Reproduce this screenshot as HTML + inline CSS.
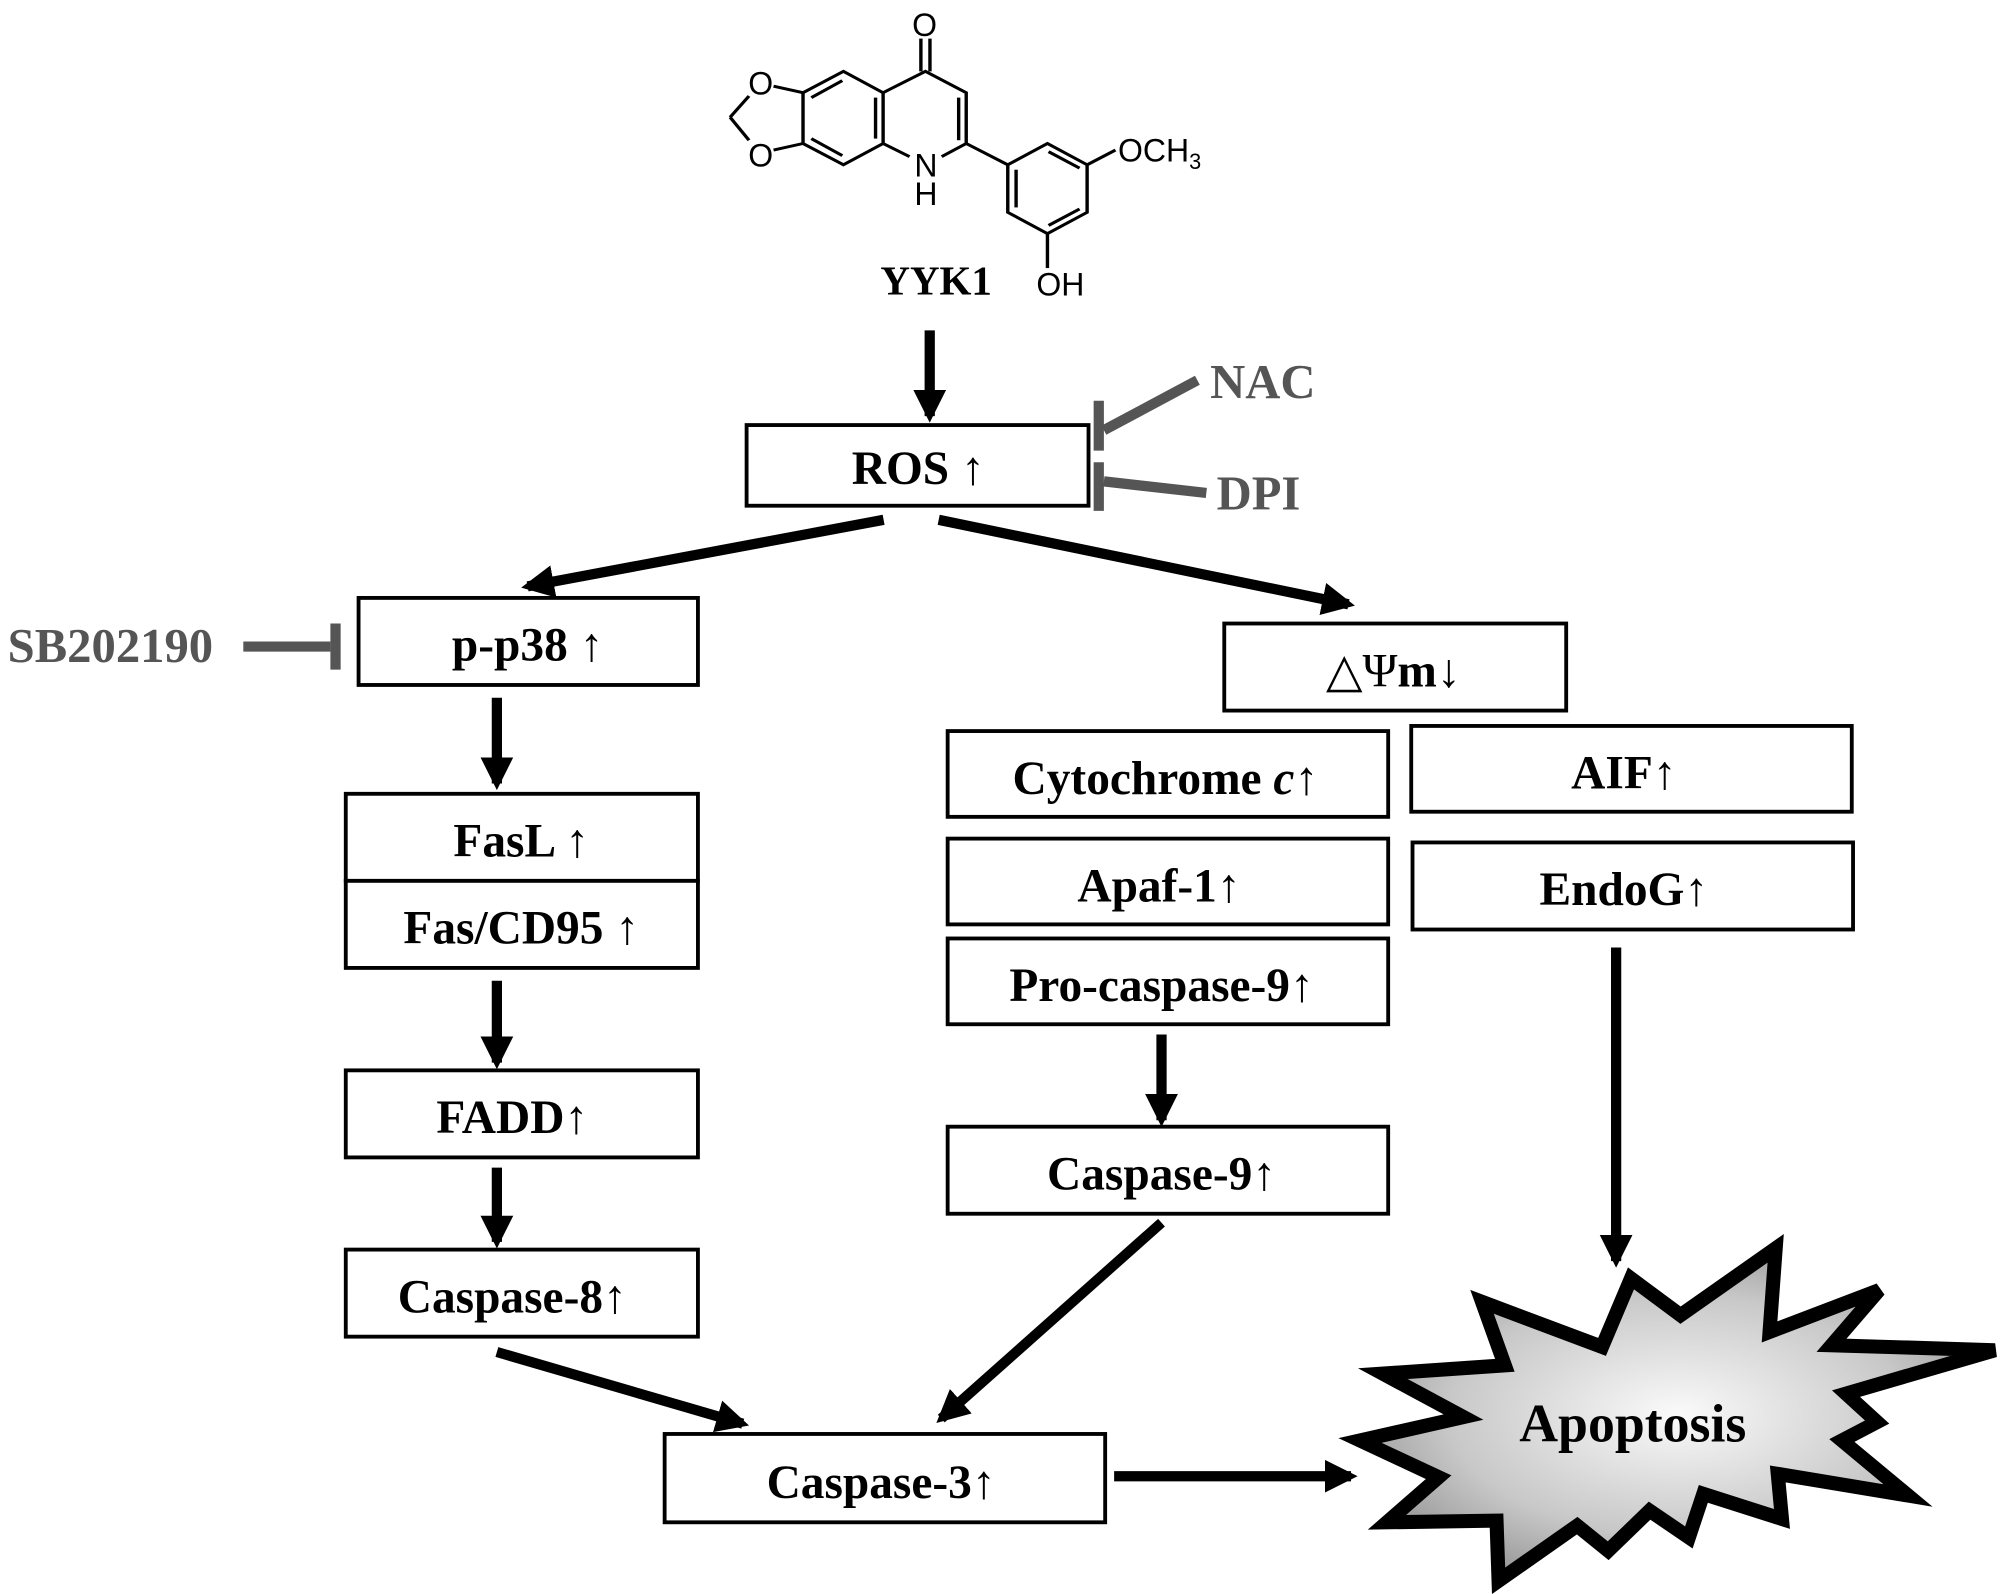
<!DOCTYPE html>
<html><head><meta charset="utf-8"><style>
html,body{margin:0;padding:0;background:#fff;}
svg{display:block;}
.b{fill:#fff;stroke:#000;stroke-width:3;}
.t{font-family:"Liberation Serif",serif;font-weight:bold;font-size:37px;fill:#000;text-anchor:middle;}
.g{font-family:"Liberation Serif",serif;font-weight:bold;font-size:38px;fill:#555;}
.m{font-family:"Liberation Sans",sans-serif;font-size:25px;fill:#000;}
.ar{font-weight:normal;}
</style></head><body>
<svg width="2008" height="1594" viewBox="0 0 1568 1245" preserveAspectRatio="none" xmlns="http://www.w3.org/2000/svg">
<defs>
<marker id="ah" viewBox="0 0 10 10" refX="8" refY="5" markerWidth="3.2" markerHeight="3.2" orient="auto" markerUnits="strokeWidth">
<path d="M0,0 L10,5 L0,10 z" fill="#000"/></marker>
<radialGradient id="sg" cx="50%" cy="50%" r="60%">
<stop offset="0" stop-color="#fafafa"/><stop offset="0.6" stop-color="#c8c8c8"/><stop offset="1" stop-color="#8a8a8a"/></radialGradient>
</defs>

<!-- molecule -->
<g transform="translate(548,2) scale(0.295,0.256)" fill="none" stroke="#000" stroke-width="9">
<line x1="580" y1="210" x2="580" y2="110"/><line x1="604" y1="210" x2="604" y2="110"/>
<polyline points="480,430 480,275 592,210 700,275 700,430"/>
<line x1="680" y1="290" x2="680" y2="420"/>
<line x1="700" y1="430" x2="635" y2="470"/><line x1="480" y1="430" x2="550" y2="470"/>
<polyline points="480,275 375,210 268,275 268,430 375,495 480,430"/>
<line x1="460" y1="290" x2="460" y2="415"/><line x1="290" y1="290" x2="372" y2="238"/><line x1="290" y1="415" x2="372" y2="467"/>
<line x1="268" y1="275" x2="190" y2="255"/><line x1="125" y1="285" x2="75" y2="350"/><line x1="75" y1="350" x2="125" y2="420"/><line x1="190" y1="450" x2="268" y2="430"/>
<line x1="700" y1="430" x2="810" y2="495"/>
<polygon points="810,495 915,430 1020,495 1020,640 915,705 810,640"/>
<line x1="832" y1="510" x2="832" y2="625"/><line x1="918" y1="455" x2="1000" y2="505"/><line x1="1000" y1="630" x2="918" y2="680"/>
<line x1="1020" y1="495" x2="1095" y2="450"/><line x1="915" y1="705" x2="915" y2="810"/>
</g>
<text class="m" x="722" y="28" text-anchor="middle">O</text>
<text class="m" x="594" y="74" text-anchor="middle">O</text>
<text class="m" x="594" y="130" text-anchor="middle">O</text>
<text class="m" x="723" y="138" text-anchor="middle">N</text>
<text class="m" x="723" y="160" text-anchor="middle">H</text>
<text class="m" x="873" y="126">OCH<tspan font-size="17" dy="6">3</tspan></text>
<text class="m" x="828" y="231" text-anchor="middle">OH</text>
<text class="t" x="731" y="230" style="font-size:32px">YYK1</text>

<!-- boxes -->
<rect class="b" x="583" y="332" width="267" height="63"/><text class="t" x="717" y="378">ROS <tspan class="ar">↑</tspan></text>
<rect class="b" x="280" y="467" width="265" height="68"/><text class="t" x="412" y="516">p-p38 <tspan class="ar">↑</tspan></text>
<rect class="b" x="270" y="620" width="275" height="68"/><text class="t" x="407" y="669">FasL <tspan class="ar">↑</tspan></text>
<rect class="b" x="270" y="688" width="275" height="68"/><text class="t" x="407" y="737">Fas/CD95 <tspan class="ar">↑</tspan></text>
<rect class="b" x="270" y="836" width="275" height="68"/><text class="t" x="400" y="885">FADD<tspan class="ar">↑</tspan></text>
<rect class="b" x="270" y="976" width="275" height="68"/><text class="t" x="400" y="1025">Caspase-8<tspan class="ar">↑</tspan></text>
<rect class="b" x="519" y="1120" width="344" height="69"/><text class="t" x="688" y="1170">Caspase-3<tspan class="ar">↑</tspan></text>
<rect class="b" x="956" y="487" width="267" height="68"/><text class="t" x="1088" y="536"><tspan class="ar">△Ψ</tspan>m<tspan class="ar">↓</tspan></text>
<rect class="b" x="740" y="571" width="344" height="67"/><text class="t" x="910" y="620">Cytochrome <tspan font-style="italic">c</tspan><tspan class="ar">↑</tspan></text>
<rect class="b" x="740" y="655" width="344" height="67"/><text class="t" x="905" y="704">Apaf-1<tspan class="ar">↑</tspan></text>
<rect class="b" x="740" y="733" width="344" height="67"/><text class="t" x="907" y="782">Pro-caspase-9<tspan class="ar">↑</tspan></text>
<rect class="b" x="740" y="880" width="344" height="68"/><text class="t" x="907" y="929">Caspase-9<tspan class="ar">↑</tspan></text>
<rect class="b" x="1102" y="567" width="344" height="67"/><text class="t" x="1268" y="616">AIF<tspan class="ar">↑</tspan></text>
<rect class="b" x="1103" y="658" width="344" height="68"/><text class="t" x="1268" y="707">EndoG<tspan class="ar">↑</tspan></text>

<!-- arrows -->
<g stroke="#000" stroke-width="8" fill="none" marker-end="url(#ah)">
<line x1="726" y1="258" x2="726" y2="325"/>
<line x1="690" y1="406" x2="412" y2="458"/>
<line x1="733" y1="406" x2="1053" y2="472"/>
<line x1="388" y1="545" x2="388" y2="612"/>
<line x1="388" y1="766" x2="388" y2="830"/>
<line x1="388" y1="912" x2="388" y2="970"/>
<line x1="388" y1="1056" x2="580" y2="1112"/>
<line x1="907" y1="808" x2="907" y2="875"/>
<line x1="907" y1="955" x2="735" y2="1108"/>
<line x1="870" y1="1153" x2="1055" y2="1153"/>
<line x1="1262" y1="740" x2="1262" y2="985"/>
</g>

<!-- inhibitors -->
<g stroke="#555" stroke-width="8" fill="none">
<line x1="935" y1="297" x2="862" y2="336"/><line x1="858" y1="313" x2="858" y2="352"/>
<line x1="942" y1="385" x2="862" y2="376"/><line x1="858" y1="361" x2="858" y2="399"/>
<line x1="190" y1="505" x2="258" y2="505"/><line x1="262" y1="487" x2="262" y2="523"/>
</g>
<text class="g" x="945" y="311">NAC</text>
<text class="g" x="950" y="398">DPI</text>
<text class="g" x="6" y="517">SB202190</text>

<!-- apoptosis star -->
<polygon fill="url(#sg)" stroke="#000" stroke-width="11" stroke-linejoin="miter" points="1273.6,998.5 1312.3,1027.2 1386.6,975 1381.8,1040.3 1467.4,1007.6 1430.2,1050.7 1557.8,1054.6 1441.5,1088.5 1465.8,1110.7 1438.3,1125.1 1490,1168.1 1388.2,1151.2 1391.5,1186.4 1330.1,1166.8 1318.8,1200.8 1288.1,1179.9 1255.8,1211.2 1231.6,1191.6 1170.2,1234.7 1168.6,1187.7 1083,1189 1123.4,1153.8 1062,1125.1 1142.8,1106.8 1079.8,1072.9 1175.1,1066.4 1157.3,1016.8 1251,1052"/>
<text class="t" x="1275" y="1126" style="font-size:42px">Apoptosis</text>
</svg>
</body></html>
